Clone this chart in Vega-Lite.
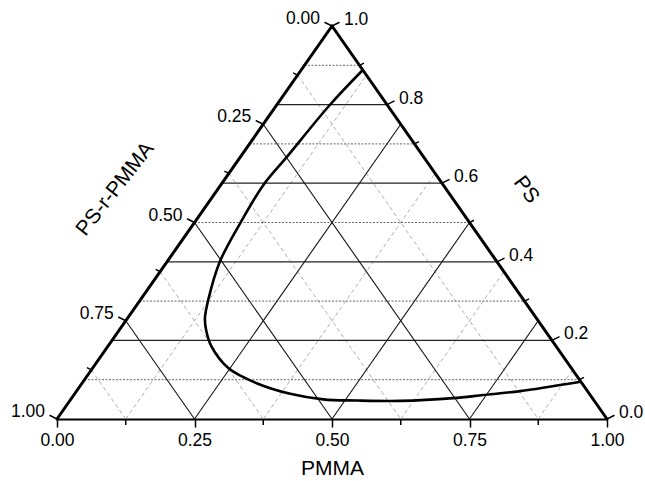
{
  "$schema": "https://vega.github.io/schema/vega-lite/v6.json",
  "width": 550,
  "height": 393,
  "autosize": "none",
  "padding": {"left": 57, "top": 26, "right": 38, "bottom": 62},
  "config": {"view": {"stroke": null}, "font": "Liberation Sans"},
  "datasets": {
    "minorDiag": [
      {"x": 0.125, "y": 0, "x2": 0.5625, "y2": 0.875},
      {"x": 0.375, "y": 0, "x2": 0.6875, "y2": 0.625},
      {"x": 0.625, "y": 0, "x2": 0.8125, "y2": 0.375},
      {"x": 0.875, "y": 0, "x2": 0.9375, "y2": 0.125},
      {"x": 0.4375, "y": 0.875, "x2": 0.875, "y2": 0},
      {"x": 0.3125, "y": 0.625, "x2": 0.625, "y2": 0},
      {"x": 0.1875, "y": 0.375, "x2": 0.375, "y2": 0},
      {"x": 0.0625, "y": 0.125, "x2": 0.125, "y2": 0}
    ],
    "minorH": [
      {"x": 0.05, "y": 0.1, "x2": 0.95, "y2": 0.1},
      {"x": 0.15, "y": 0.3, "x2": 0.85, "y2": 0.3},
      {"x": 0.25, "y": 0.5, "x2": 0.75, "y2": 0.5},
      {"x": 0.35, "y": 0.7, "x2": 0.65, "y2": 0.7},
      {"x": 0.45, "y": 0.9, "x2": 0.55, "y2": 0.9}
    ],
    "majorH": [
      {"x": 0.1, "y": 0.2, "x2": 0.9, "y2": 0.2},
      {"x": 0.2, "y": 0.4, "x2": 0.8, "y2": 0.4},
      {"x": 0.3, "y": 0.6, "x2": 0.7, "y2": 0.6},
      {"x": 0.4, "y": 0.8, "x2": 0.6, "y2": 0.8}
    ],
    "majorDiag": [
      {"x": 0.25, "y": 0, "x2": 0.625, "y2": 0.75},
      {"x": 0.5, "y": 0, "x2": 0.75, "y2": 0.5},
      {"x": 0.75, "y": 0, "x2": 0.875, "y2": 0.25},
      {"x": 0.375, "y": 0.75, "x2": 0.75, "y2": 0},
      {"x": 0.25, "y": 0.5, "x2": 0.5, "y2": 0},
      {"x": 0.125, "y": 0.25, "x2": 0.25, "y2": 0}
    ],
    "edges": [
      {"x": 0, "y": 0, "x2": 0.5, "y2": 1},
      {"x": 0.5, "y": 1, "x2": 1, "y2": 0}
    ],
    "curve": [
      {"i": 0, "x": 0.556, "y": 0.888},
      {"i": 1, "x": 0.496, "y": 0.799},
      {"i": 2, "x": 0.418, "y": 0.667},
      {"i": 3, "x": 0.375, "y": 0.595},
      {"i": 4, "x": 0.333, "y": 0.498},
      {"i": 5, "x": 0.296, "y": 0.4},
      {"i": 6, "x": 0.275, "y": 0.303},
      {"i": 7, "x": 0.269, "y": 0.257},
      {"i": 8, "x": 0.271, "y": 0.227},
      {"i": 9, "x": 0.281, "y": 0.184},
      {"i": 10, "x": 0.312, "y": 0.129},
      {"i": 11, "x": 0.363, "y": 0.091},
      {"i": 12, "x": 0.424, "y": 0.064},
      {"i": 13, "x": 0.484, "y": 0.05},
      {"i": 14, "x": 0.545, "y": 0.047},
      {"i": 15, "x": 0.624, "y": 0.046},
      {"i": 16, "x": 0.72, "y": 0.053},
      {"i": 17, "x": 0.775, "y": 0.061},
      {"i": 18, "x": 0.842, "y": 0.071},
      {"i": 19, "x": 0.9525, "y": 0.095}
    ],
    "bottomMinor": [
      {"x": 0.125, "y": 0}, {"x": 0.375, "y": 0}, {"x": 0.625, "y": 0}, {"x": 0.875, "y": 0}
    ],
    "leftMajor": [
      {"x": 0.5, "y": 1, "label": "0.00"},
      {"x": 0.375, "y": 0.75, "label": "0.25"},
      {"x": 0.25, "y": 0.5, "label": "0.50"},
      {"x": 0.125, "y": 0.25, "label": "0.75"},
      {"x": 0, "y": 0, "label": "1.00"}
    ],
    "leftMinor": [
      {"x": 0.4375, "y": 0.875}, {"x": 0.3125, "y": 0.625}, {"x": 0.1875, "y": 0.375}, {"x": 0.0625, "y": 0.125}
    ],
    "rightMajor": [
      {"x": 1, "y": 0, "label": "0.0"},
      {"x": 0.9, "y": 0.2, "label": "0.2"},
      {"x": 0.8, "y": 0.4, "label": "0.4"},
      {"x": 0.7, "y": 0.6, "label": "0.6"},
      {"x": 0.6, "y": 0.8, "label": "0.8"},
      {"x": 0.5, "y": 1, "label": "1.0"}
    ],
    "rightMinor": [
      {"x": 0.95, "y": 0.1}, {"x": 0.85, "y": 0.3}, {"x": 0.75, "y": 0.5}, {"x": 0.65, "y": 0.7}, {"x": 0.55, "y": 0.9}
    ],
    "leftTitle": [{"x": 0.106, "y": 0.585, "label": "PS-r-PMMA"}],
    "rightTitle": [{"x": 0.853, "y": 0.583, "label": "PS"}]
  },
  "encoding": {
    "x": {
      "field": "x", "type": "quantitative",
      "scale": {"domain": [0, 1], "nice": false, "zero": false},
      "axis": {
        "values": [0, 0.25, 0.5, 0.75, 1],
        "format": ".2f",
        "title": "PMMA",
        "grid": false,
        "tickSize": 8,
        "tickWidth": 1.5,
        "tickColor": "#000000",
        "domainColor": "#000000",
        "domainWidth": 2,
        "labelFont": "Liberation Sans",
        "labelFontSize": 17.5,
        "labelColor": "#000000",
        "labelPadding": 4,
        "labelFlush": false,
        "labelOverlap": false,
        "labelBound": false,
        "titleFont": "Liberation Sans",
        "titleFontSize": 21,
        "titleFontWeight": "normal",
        "titleColor": "#000000",
        "titlePadding": 9
      }
    },
    "y": {"field": "y", "type": "quantitative", "scale": {"domain": [0, 1], "nice": false, "zero": false}, "axis": null}
  },
  "layer": [
    {
      "data": {"name": "minorDiag"},
      "mark": {"type": "rule", "stroke": "#9a9a9a", "strokeWidth": 0.8, "strokeDash": [4, 3]},
      "encoding": {"x2": {"field": "x2"}, "y2": {"field": "y2"}}
    },
    {
      "data": {"name": "minorH"},
      "mark": {"type": "rule", "stroke": "#666666", "strokeWidth": 1, "strokeDash": [2, 1.5]},
      "encoding": {"x2": {"field": "x2"}, "y2": {"field": "y2"}}
    },
    {
      "data": {"name": "majorH"},
      "mark": {"type": "rule", "stroke": "#222222", "strokeWidth": 1.3},
      "encoding": {"x2": {"field": "x2"}, "y2": {"field": "y2"}}
    },
    {
      "data": {"name": "majorDiag"},
      "mark": {"type": "rule", "stroke": "#111111", "strokeWidth": 1.1},
      "encoding": {"x2": {"field": "x2"}, "y2": {"field": "y2"}}
    },
    {
      "data": {"name": "edges"},
      "mark": {"type": "rule", "stroke": "#000000", "strokeWidth": 3, "strokeCap": "round"},
      "encoding": {"x2": {"field": "x2"}, "y2": {"field": "y2"}}
    },
    {
      "data": {"name": "curve"},
      "mark": {"type": "line", "stroke": "#000000", "strokeWidth": 2.6, "interpolate": "catmull-rom"},
      "encoding": {"order": {"field": "i", "type": "quantitative"}}
    },
    {
      "data": {"name": "bottomMinor"},
      "mark": {"type": "point", "shape": "M0,0L0,1", "size": 144, "filled": false, "stroke": "#000000", "strokeWidth": 1.5, "opacity": 1},
      "encoding": {}
    },
    {
      "data": {"name": "leftMajor"},
      "mark": {"type": "point", "shape": "M0,0L-1,-0.5", "size": 225, "filled": false, "stroke": "#000000", "strokeWidth": 1.5, "opacity": 1},
      "encoding": {}
    },
    {
      "data": {"name": "leftMinor"},
      "mark": {"type": "point", "shape": "M0,0L-1,-0.5", "size": 81, "filled": false, "stroke": "#000000", "strokeWidth": 1.5, "opacity": 1},
      "encoding": {}
    },
    {
      "data": {"name": "rightMajor"},
      "mark": {"type": "point", "shape": "M0,0L1,-0.5", "size": 225, "filled": false, "stroke": "#000000", "strokeWidth": 1.5, "opacity": 1},
      "encoding": {}
    },
    {
      "data": {"name": "rightMinor"},
      "mark": {"type": "point", "shape": "M0,0L1,-0.5", "size": 81, "filled": false, "stroke": "#000000", "strokeWidth": 1.5, "opacity": 1},
      "encoding": {}
    },
    {
      "data": {"name": "leftMajor"},
      "mark": {"type": "text", "align": "right", "baseline": "middle", "dx": -12, "dy": -7, "fontSize": 17.5, "font": "Liberation Sans", "color": "#000000"},
      "encoding": {"text": {"field": "label"}}
    },
    {
      "data": {"name": "rightMajor"},
      "mark": {"type": "text", "align": "left", "baseline": "middle", "dx": 12, "dy": -6, "fontSize": 17.5, "font": "Liberation Sans", "color": "#000000"},
      "encoding": {"text": {"field": "label"}}
    },
    {
      "data": {"name": "leftTitle"},
      "mark": {"type": "text", "align": "center", "baseline": "middle", "angle": -52, "fontSize": 21, "font": "Liberation Sans", "color": "#000000"},
      "encoding": {"text": {"field": "label"}}
    },
    {
      "data": {"name": "rightTitle"},
      "mark": {"type": "text", "align": "center", "baseline": "middle", "angle": 53, "fontSize": 21, "font": "Liberation Sans", "color": "#000000"},
      "encoding": {"text": {"field": "label"}}
    }
  ]
}
